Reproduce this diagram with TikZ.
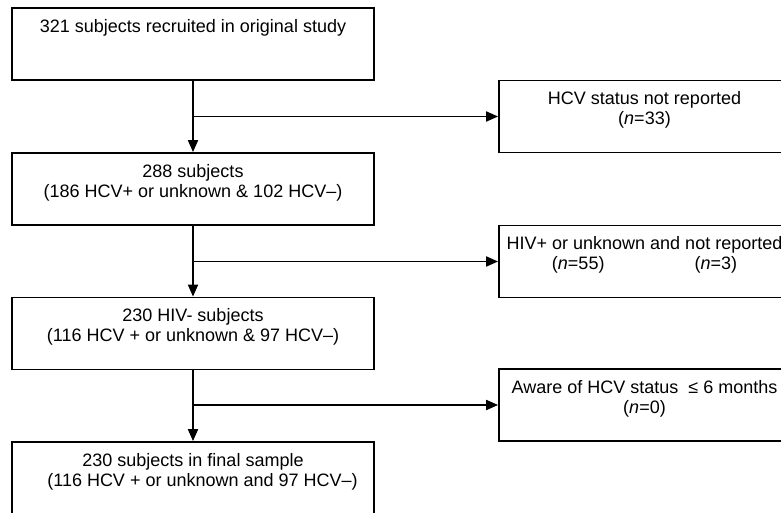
\documentclass[tikz,border=0pt]{standalone}
\usepackage{fontspec}
\setmainfont{Liberation Sans}
\usetikzlibrary{arrows.meta}

\begin{document}
\begin{tikzpicture}[x=1pt,y=-1pt,
  box/.style={draw,line width=1.8pt,align=center,inner xsep=0pt,inner ysep=11pt,
    text height=33.2pt,text depth=16.8pt,font=\fontsize{18}{20}\selectfont},
  oneline/.style={text height=13.2pt,text depth=36.8pt},
  mainbox/.style={box,minimum width=362pt},
  sidebox/.style={box,minimum width=291pt},
  flow/.style={line width=1.8pt,-{Triangle[length=12pt,width=10pt]}}]

\useasboundingbox (0,0) rectangle (781,513);
\clip (0,0) rectangle (781,513);

% main column
\node[mainbox,oneline] (recruited) at (193,44) {321 subjects recruited in original study};
\node[mainbox] (hcvknown) at (193,189) {288 subjects\\(186 HCV+ or unknown \& 102 HCV–)};
\node[mainbox] (hivneg) at (193,333.5) {230 HIV- subjects\\(116 HCV + or unknown \& 97 HCV–)};
\node[mainbox] (final) at (193,478) {230 subjects in final sample\\\hspace*{19pt}(116 HCV + or unknown and 97 HCV–)};

% excluded subjects
\node[sidebox] (nohcv) at (644.5,116.5) {HCV status not reported\\(\textit{n}=33)};
\node[sidebox] (hivpos) at (644.5,261.5) {HIV+ or unknown and not reported\\(\textit{n}=55)\hspace{90pt}(\textit{n}=3)};
\node[sidebox] (aware) at (644.5,405) {Aware of HCV status\ \ ≤ 6 months\\(\textit{n}=0)};

% arrows down
\draw[flow] (recruited.south) -- (hcvknown.north);
\draw[flow] (hcvknown.south) -- (hivneg.north);
\draw[flow] (hivneg.south) -- (final.north);

% arrows to the side
\coordinate (split1) at (recruited.south |- nohcv.west);
\coordinate (split2) at (hcvknown.south |- hivpos.west);
\coordinate (split3) at (hivneg.south |- aware.west);
\draw[flow] (split1) -- (nohcv.west);
\draw[flow] (split2) -- (hivpos.west);
\draw[flow] (split3) -- (aware.west);

\end{tikzpicture}
\end{document}
